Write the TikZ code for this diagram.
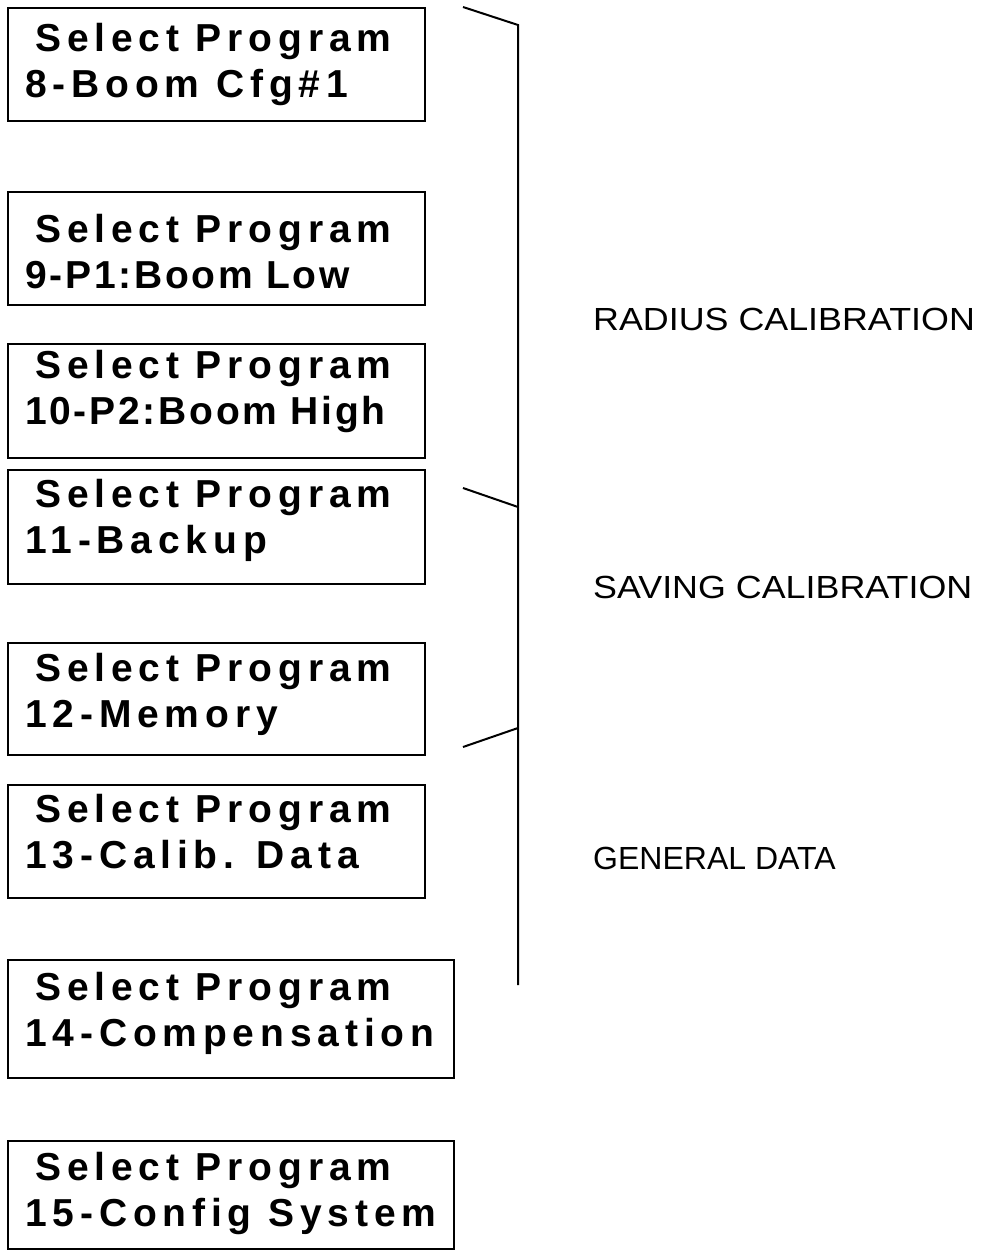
\documentclass[tikz,border=0pt]{standalone}
\usepackage{fontspec}
\setmainfont{Liberation Sans}
\newfontfamily\widefont{Liberation Sans Bold}[LetterSpace=15]
\newfontfamily\tightfont{Liberation Sans Bold}[LetterSpace=7]

\newcommand{\selprog}{\hspace*{10pt}{\widefont Select Program}}

\begin{document}
\begin{tikzpicture}[
x=1pt, y=-1pt,
screen/.style={draw, rectangle, line width=2.2pt, inner sep=0pt, anchor=north west, minimum width=417pt},
widescreen/.style={screen, minimum width=446pt},
lcd/.style={anchor=base west, align=left, inner sep=0pt, font=\fontsize{39}{46}\selectfont},
group/.style={anchor=base west, inner sep=0pt, font=\fontsize{32}{38}\selectfont},
bracket/.style={line width=2pt}
]
\useasboundingbox (0,0) rectangle (985,1252);

\node[screen, minimum height=113pt] (prog8) at (7,7) {};
\node[screen, minimum height=113pt] (prog9) at (7,191) {};
\node[screen, minimum height=114pt] (prog10) at (7,343) {};
\node[screen, minimum height=114pt] (prog11) at (7,469) {};
\node[screen, minimum height=112pt] (prog12) at (7,642) {};
\node[screen, minimum height=113pt] (prog13) at (7,784) {};
\node[widescreen, minimum height=118pt] (prog14) at (7,959) {};
\node[widescreen, minimum height=108pt] (prog15) at (7,1140) {};

% anchor base = last line
\node[lcd] (txt8) at ([shift={(18,91)}]prog8.north west) {\selprog\\{\widefont 8-Boom Cfg\#1}};
\node[lcd] (txt9) at ([shift={(18,97)}]prog9.north west) {\selprog\\{\tightfont 9-P1:Boom Low}};
\node[lcd] (txt10) at ([shift={(18,81)}]prog10.north west) {\selprog\\{\tightfont 10-P2:Boom High}};
\node[lcd] (txt11) at ([shift={(18,84)}]prog11.north west) {\selprog\\{\widefont 11-Backup}};
\node[lcd] (txt12) at ([shift={(18,85)}]prog12.north west) {\selprog\\{\widefont 12-Memory}};
\node[lcd] (txt13) at ([shift={(18,84)}]prog13.north west) {\selprog\\{\widefont 13-Calib. Data}};
\node[lcd] (txt14) at ([shift={(18,87)}]prog14.north west) {\selprog\\{\widefont 14-Compensation}};
\node[lcd] (txt15) at ([shift={(18,86)}]prog15.north west) {\selprog\\{\widefont 15-Config System}};

% bracket
\coordinate (brtop) at (518,25);
\coordinate (brbot) at (518,985);
\coordinate (brmid) at (518,507);
\coordinate (brlow) at (518,728);
\coordinate (tick1) at (463,7);
\coordinate (tick2) at (463,488);
\coordinate (tick3) at (463,747);

\draw[bracket] (tick1) -- (brtop) -- (brbot);
\draw[bracket] (tick2) -- (brmid);
\draw[bracket] (tick3) -- (brlow);

\node[group] (radius) at (593,330) {\scalebox{1.12}[1]{RADIUS CALIBRATION}};
\node[group] (saving) at (593,598) {\scalebox{1.12}[1]{SAVING CALIBRATION}};
\node[group] (general) at (593,869) {GENERAL DATA};

\end{tikzpicture}
\end{document}
